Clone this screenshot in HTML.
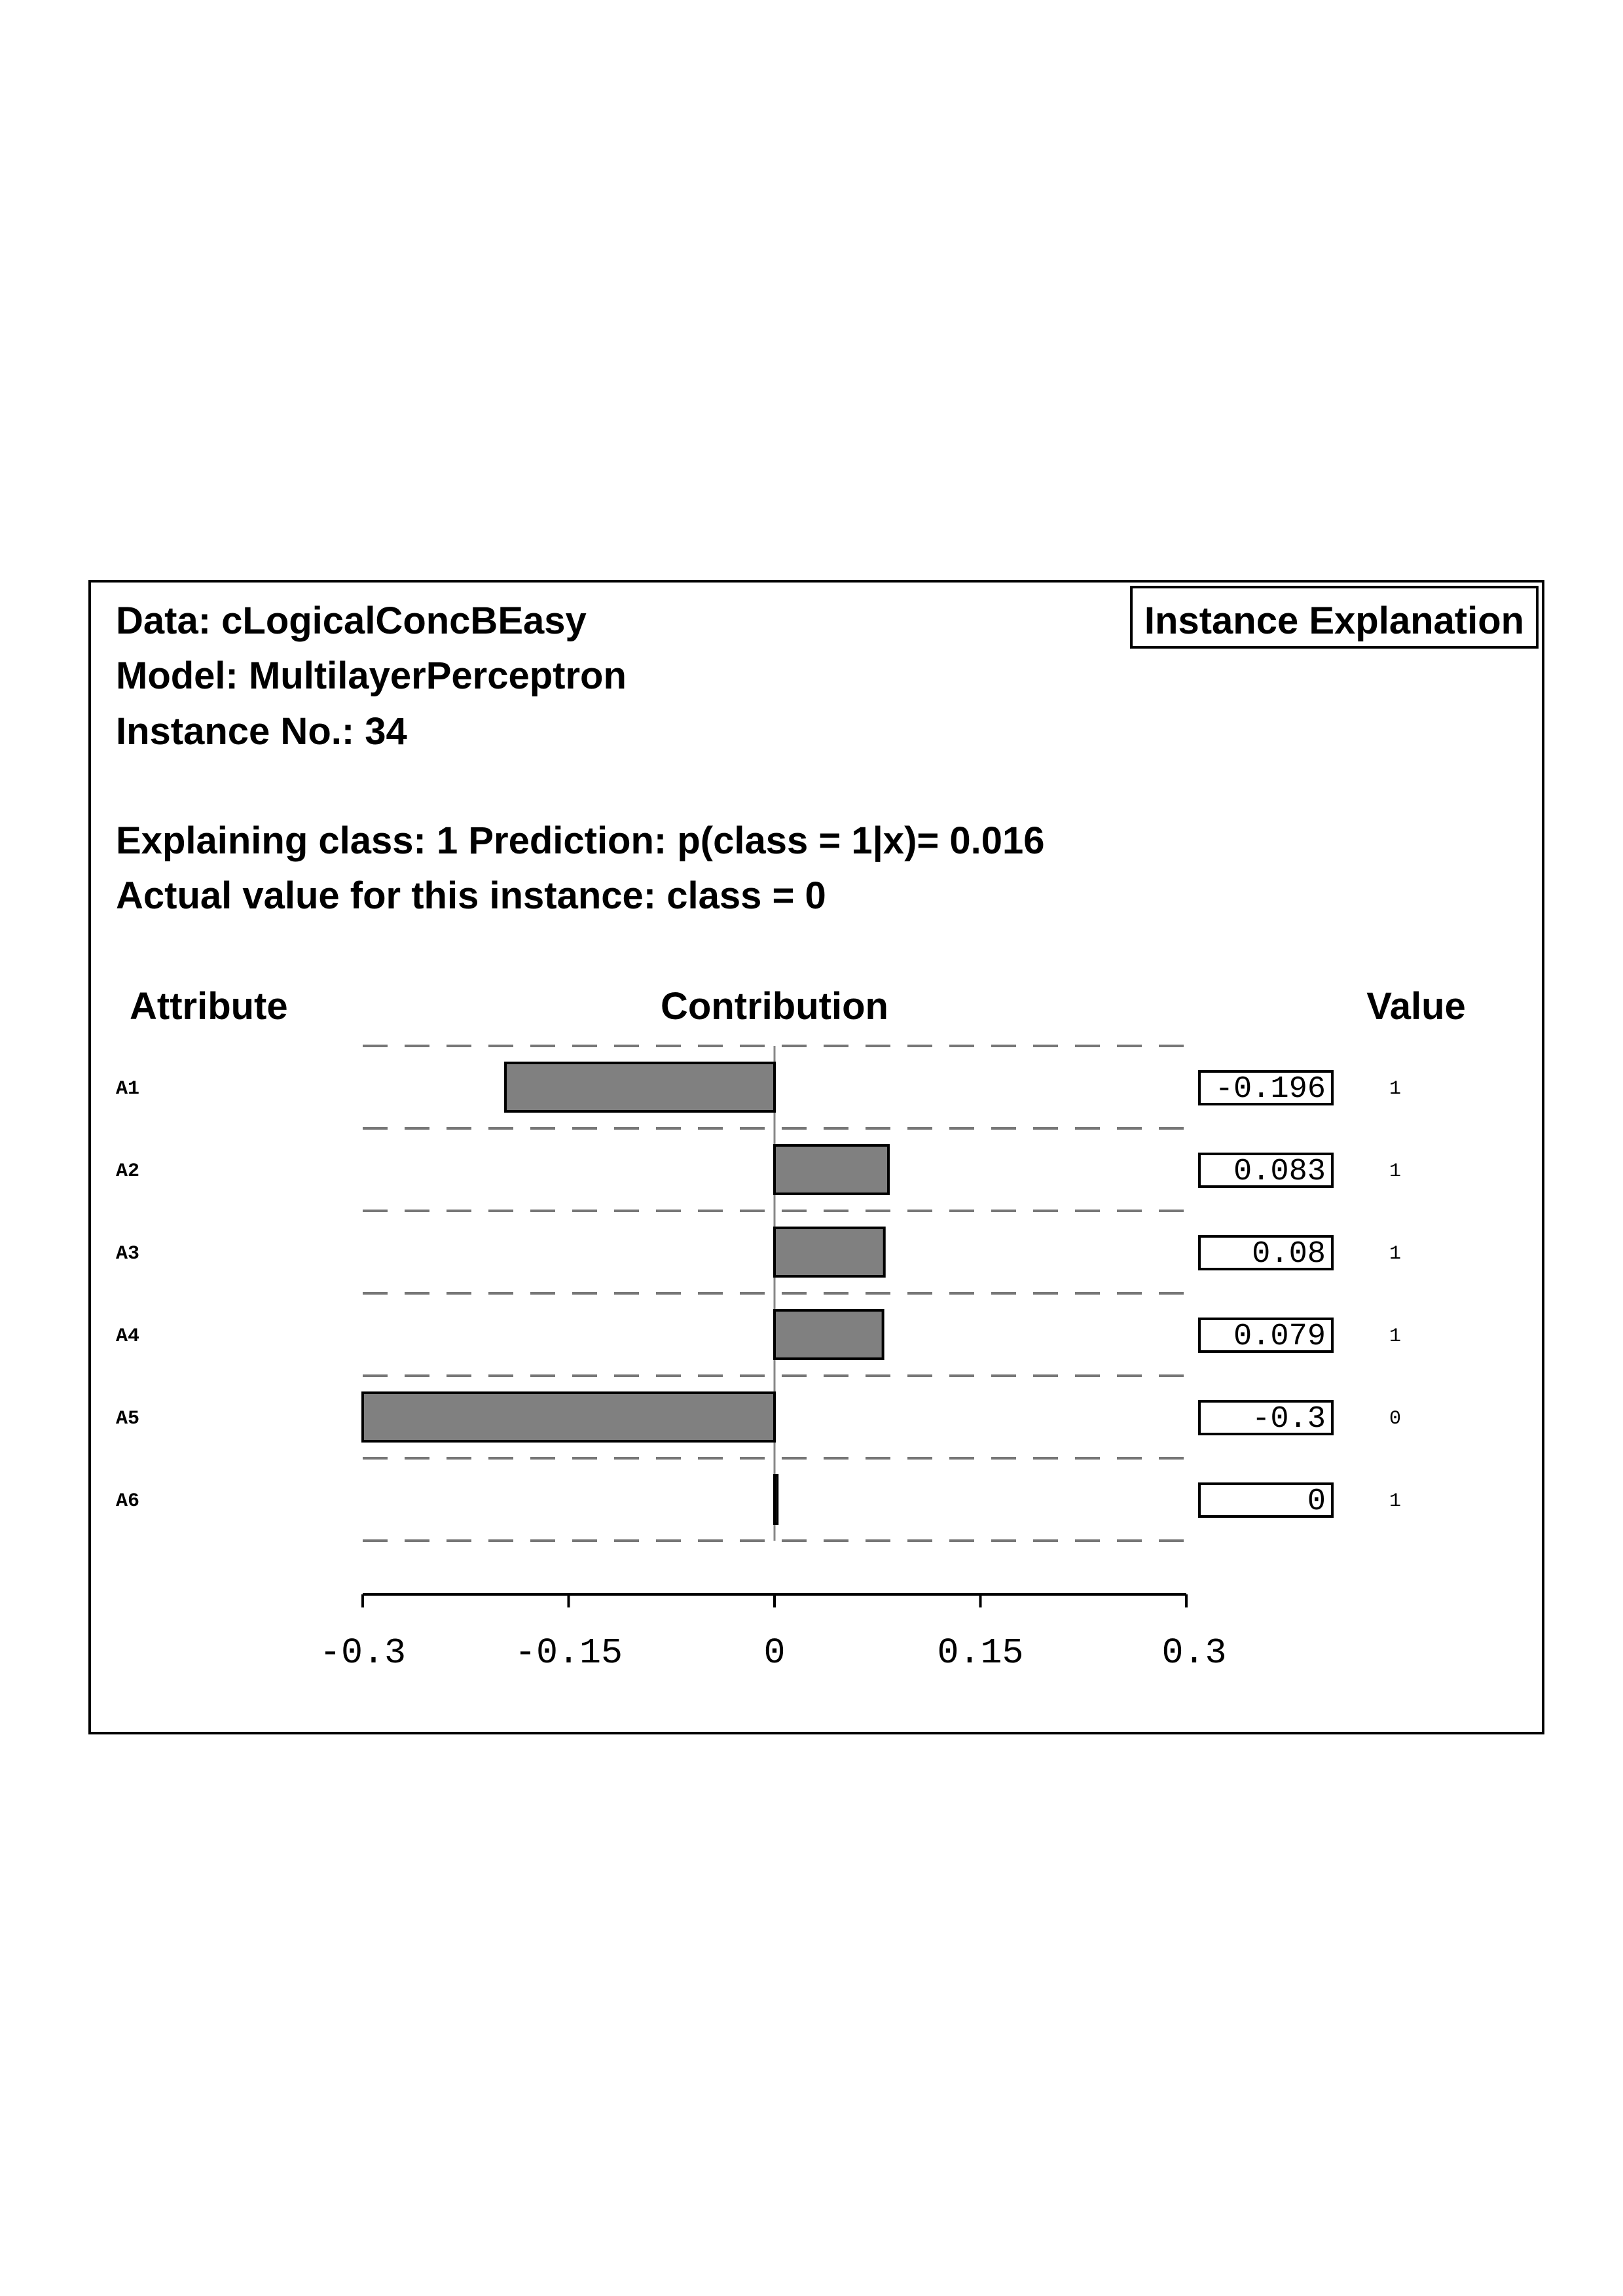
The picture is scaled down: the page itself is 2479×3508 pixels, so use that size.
<!DOCTYPE html>
<html><head><meta charset="utf-8"><style>
body{margin:0;background:#fff;}
svg{display:block}
.t{font-family:"Liberation Sans",sans-serif;font-weight:bold;font-size:58px;fill:#000}
.m{font-family:"Liberation Mono",monospace;fill:#000}
</style></head><body>
<svg width="2479" height="3508" viewBox="0 0 2479 3508" xmlns="http://www.w3.org/2000/svg">
<rect x="137" y="888" width="2220" height="1760" fill="none" stroke="#000" stroke-width="4"/>
<text class="t" x="177" y="968">Data: cLogicalConcBEasy</text>
<text class="t" x="177" y="1052">Model: MultilayerPerceptron</text>
<text class="t" x="177" y="1137">Instance No.: 34</text>
<text class="t" x="177" y="1304">Explaining class: 1 Prediction: p(class = 1|x)= 0.016</text>
<text class="t" x="177" y="1388">Actual value for this instance: class = 0</text>
<rect x="1728" y="897" width="620" height="92" fill="none" stroke="#000" stroke-width="4"/>
<text class="t" x="2038" y="968" text-anchor="middle">Instance Explanation</text>
<text class="t" x="198" y="1557">Attribute</text>
<text class="t" x="1183" y="1557" text-anchor="middle">Contribution</text>
<text class="t" x="2163" y="1557" text-anchor="middle">Value</text>
<g id="chart"></g>
</svg>
<script>
const attributes=["A1","A2","A3","A4","A5","A6"];
const contributions=[-0.196,0.083,0.08,0.079,-0.3,0.002];
const contribLabels=["-0.196","0.083","0.08","0.079","-0.3","0"];
const attrValues=["1","1","1","1","0","1"];
const ticks=[-0.3,-0.15,0,0.15,0.3];
const tickLabels=["-0.3","-0.15","0","0.15","0.3"];
const NS="http://www.w3.org/2000/svg";
const g=document.getElementById('chart');
const x0=554,x1=1812,topY=1598,step=126;
function X(v){return x0+(v+0.3)/0.6*(x1-x0);}
function mk(t,a){const e=document.createElementNS(NS,t);for(const k in a)e.setAttribute(k,a[k]);g.appendChild(e);return e;}
for(let i=0;i<=attributes.length;i++){
 const l=mk('line',{x1:x0,x2:x1,y1:topY+i*step,y2:topY+i*step,stroke:'#777','stroke-width':4,'stroke-dasharray':'38,26'});
 
 
}
const zl=mk('line',{x1:X(0),x2:X(0),y1:topY,y2:topY+attributes.length*step,stroke:'#888','stroke-width':3});


attributes.forEach((a,i)=>{
 const yc=topY+i*step+step/2;
 const xa=X(Math.min(0,contributions[i])),xb=X(Math.max(0,contributions[i]));
 const b=mk('rect',{x:xa,y:yc-37,width:Math.max(xb-xa,3),height:74,fill:'#808080',stroke:'#000','stroke-width':4});
 
 
 const t=mk('text',{x:177,y:yc+10,class:'m','font-size':30,'font-weight':'bold'});t.textContent=a;
 
 
 const bx=mk('rect',{x:1832,y:yc-24,width:203,height:50,fill:'none',stroke:'#000','stroke-width':4});
 
 
 const ct=mk('text',{x:2025,y:yc+15,class:'m','font-size':47,'text-anchor':'end'});ct.textContent=contribLabels[i];
 
 
 const v=mk('text',{x:2122,y:yc+10,class:'m','font-size':30});v.textContent=attrValues[i];
 
 
});
const ay=2436;
const ax=mk('line',{x1:x0,x2:x1,y1:ay,y2:ay,stroke:'#000','stroke-width':4});


ticks.forEach((v,i)=>{
 const tk=mk('line',{x1:X(v),x2:X(v),y1:ay,y2:ay+20,stroke:'#000','stroke-width':4});
 
 
 const tl=mk('text',{x:X(v)-(i===4?-12:0),y:2540,class:'m','font-size':55,'text-anchor':'middle'});tl.textContent=tickLabels[i];
 
 
});
</script>
</body></html>
